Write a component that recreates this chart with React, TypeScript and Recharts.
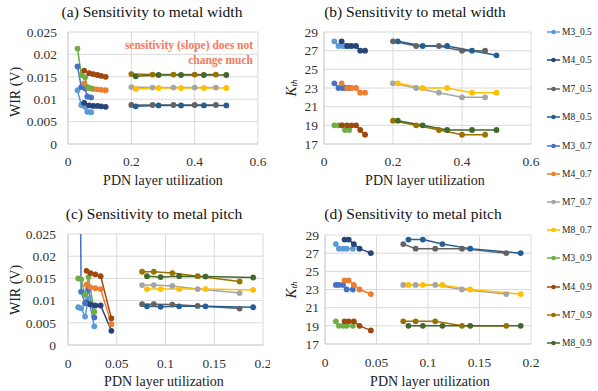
import React from 'react';
import { LineChart, Line, XAxis, YAxis, CartesianGrid } from 'recharts';

// ---------- series ----------
const seriesNames = ['M3_0.5', 'M4_0.5', 'M7_0.5', 'M8_0.5', 'M3_0.7', 'M4_0.7', 'M7_0.7', 'M8_0.7', 'M3_0.9', 'M4_0.9', 'M7_0.9', 'M8_0.9'];
const seriesColors = ['#5B9BD5', '#264478', '#636363', '#255E91', '#4472C4', '#ED7D31', '#A5A5A5', '#FFC000', '#70AD47', '#9E480E', '#997300', '#43682B'];

// ---------- x positions (PDN layer utilization) ----------
const widthM3X = [0.03, 0.042, 0.054, 0.061, 0.073];
const widthM4X = [0.051, 0.067, 0.08, 0.093, 0.105, 0.119];
const widthM7X = [0.2, 0.267, 0.333, 0.4, 0.467];
const widthM8X = [0.214, 0.286, 0.357, 0.429, 0.5];

const pitchM3X = [0.0105, 0.0135, 0.0175, 0.021, 0.027];
const pitchM4X = [0.019, 0.023, 0.028, 0.0335, 0.0445];
const pitchM7X = [0.076, 0.088, 0.107, 0.133, 0.176];
const pitchM8X = [0.081, 0.095, 0.114, 0.141, 0.19];

// ---------- (a) WIR vs width ----------
const a_M3_05 = [0.012, 0.0087, 0.0083, 0.0072, 0.0071];
const a_M4_05 = [0.0092, 0.0086, 0.0085, 0.0085, 0.0084, 0.0083];
const a_M7_05 = [0.0087, 0.0087, 0.0087, 0.0087, 0.0087];
const a_M8_05 = [0.0084, 0.0086, 0.0086, 0.0086, 0.0086];
const a_M3_07 = [0.0173, 0.0127, 0.0124, 0.0106, 0.0104];
const a_M4_07 = [0.0135, 0.0125, 0.0123, 0.0122, 0.0121, 0.012];
const a_M7_07 = [0.0127, 0.0126, 0.0126, 0.0126, 0.0126];
const a_M8_07 = [0.0123, 0.0125, 0.0125, 0.0125, 0.0125];
const a_M3_09 = [0.0213, 0.0154, 0.0149, 0.0127, 0.0124];
const a_M4_09 = [0.0164, 0.0158, 0.0156, 0.0154, 0.0152, 0.015];
const a_M7_09 = [0.0156, 0.0155, 0.0155, 0.0155, 0.0155];
const a_M8_09 = [0.0151, 0.0154, 0.0154, 0.0154, 0.0154];

// ---------- (b) K_th vs width ----------
const b_M3_05 = [28, 27.5, 27.5, 27.5, 27.5];
const b_M4_05 = [28, 27.5, 27.5, 27.5, 27, 27];
const b_M7_05 = [28, 27.5, 27.5, 27, 27];
const b_M8_05 = [28, 27.5, 27.5, 27, 26.5];
const b_M3_07 = [23.5, 23, 23, 23, 23];
const b_M4_07 = [23.5, 23, 23, 23, 22.5, 22.5];
const b_M7_07 = [23.5, 23, 22.5, 22, 22];
const b_M8_07 = [23.5, 23, 23, 22.5, 22.5];
const b_M3_09 = [19, 19, 19, 18.5, 18.5];
const b_M4_09 = [19, 19, 19, 19, 18.5, 18];
const b_M7_09 = [19.5, 19, 18.5, 18, 18];
const b_M8_09 = [19.5, 19, 18.5, 18.5, 18.5];

// ---------- (c) WIR vs pitch ----------
const c_M3_05 = [0.0085, 0.0083, 0.0064, 0.0105, 0.0042];
const c_M4_05 = [0.0095, 0.0091, 0.0089, 0.0089, 0.0032];
const c_M7_05 = [0.0092, 0.0092, 0.0091, 0.0088, 0.0082];
const c_M8_05 = [0.0087, 0.0086, 0.0087, 0.0087, 0.0085];
const c_M3_07 = [0.09, 0.012, 0.0094, 0.0125, 0.0062];
const c_M4_07 = [0.0136, 0.013, 0.0128, 0.0126, 0.0047];
const c_M7_07 = [0.0135, 0.0135, 0.0133, 0.0126, 0.0117];
const c_M8_07 = [0.0126, 0.0126, 0.0126, 0.0126, 0.0124];
const c_M3_09 = [0.015, 0.0148, 0.0113, 0.0153, 0.0075];
const c_M4_09 = [0.0167, 0.0162, 0.0159, 0.0155, 0.006];
const c_M7_09 = [0.0165, 0.0165, 0.0162, 0.0155, 0.0143];
const c_M8_09 = [0.0155, 0.0153, 0.0155, 0.0154, 0.0152];

// ---------- (d) K_th vs pitch ----------
const d_M3_05 = [28, 27.5, 27.5, 27.5, 27.5];
const d_M4_05 = [28.5, 28.5, 28, 27.5, 27];
const d_M7_05 = [28, 27.5, 27.5, 27.5, 27];
const d_M8_05 = [28.5, 28.5, 28, 27.5, 27];
const d_M3_07 = [23.5, 23.5, 23.5, 23, 23];
const d_M4_07 = [24, 24, 23.5, 23, 22.5];
const d_M7_07 = [23.5, 23.5, 23.5, 23, 22.5];
const d_M8_07 = [23.5, 23.5, 23.5, 23, 22.5];
const d_M3_09 = [19.5, 19, 19, 19, 19];
const d_M4_09 = [19.5, 19.5, 19.5, 19, 18.5];
const d_M7_09 = [19.5, 19.5, 19.5, 19, 19];
const d_M8_09 = [19, 19, 19, 19, 19];

// ---------- ticks ----------
const wirTicks = [0, 0.005, 0.01, 0.015, 0.02, 0.025];
const kthTicks = [17, 19, 21, 23, 25, 27, 29];
const widthTicks = [0, 0.2, 0.4, 0.6];
const pitchTicks = [0, 0.05, 0.1, 0.15, 0.2];

const FONT = '"Liberation Serif", "Times New Roman", serif';

const widthXs = [widthM3X, widthM4X, widthM7X, widthM8X];
const pitchXs = [pitchM3X, pitchM4X, pitchM7X, pitchM8X];
const aYs = [a_M3_05, a_M4_05, a_M7_05, a_M8_05, a_M3_07, a_M4_07, a_M7_07, a_M8_07, a_M3_09, a_M4_09, a_M7_09, a_M8_09];
const bYs = [b_M3_05, b_M4_05, b_M7_05, b_M8_05, b_M3_07, b_M4_07, b_M7_07, b_M8_07, b_M3_09, b_M4_09, b_M7_09, b_M8_09];
const cYs = [c_M3_05, c_M4_05, c_M7_05, c_M8_05, c_M3_07, c_M4_07, c_M7_07, c_M8_07, c_M3_09, c_M4_09, c_M7_09, c_M8_09];
const dYs = [d_M3_05, d_M4_05, d_M7_05, d_M8_05, d_M3_07, d_M4_07, d_M7_07, d_M8_07, d_M3_09, d_M4_09, d_M7_09, d_M8_09];

function pts(xs: number[], ys: number[]) {
  return ys.map((y, i) => ({ x: xs[i], y }));
}

type PanelProps = {
  left: number; top: number; width: number; height: number;
  margin: { top: number; right: number; bottom: number; left: number };
  yWidth: number; yTickMargin: number; xTickMargin: number;
  xDomain: [number, number]; xTicks: number[];
  yDomain: [number, number]; yTicks: number[];
  xs: number[][]; ys: number[][];
};

function Panel(p: PanelProps) {
  const tickStyle = { fill: '#333', fontSize: 13.5, fontFamily: FONT };
  return (
    <div style={{ position: 'absolute', left: p.left, top: p.top, fontFamily: FONT }}>
      <LineChart width={p.width} height={p.height} margin={p.margin} style={{ fontFamily: FONT }}>
        <CartesianGrid stroke="#dadada" strokeWidth={1} />
        <XAxis type="number" dataKey="x" domain={p.xDomain} ticks={p.xTicks} allowDataOverflow interval={0}
          axisLine={{ stroke: '#d0d0d0' }} tickLine={false} tick={tickStyle} tickMargin={p.xTickMargin} height={40} />
        <YAxis type="number" domain={p.yDomain} ticks={p.yTicks} allowDataOverflow interval={0} width={p.yWidth}
          axisLine={{ stroke: '#d0d0d0' }} tickLine={false} tick={tickStyle} tickMargin={p.yTickMargin} />
        {seriesNames.map((name, i) => (
          <Line key={name} name={name} data={pts(p.xs[i % 4], p.ys[i])} dataKey="y" type="linear"
            stroke={seriesColors[i]} strokeWidth={1.5}
            dot={{ r: 2.9, fill: seriesColors[i], stroke: seriesColors[i], strokeWidth: 0 }}
            isAnimationActive={false} />
        ))}
      </LineChart>
    </div>
  );
}

const legendY = [32, 60, 89, 117, 146, 174, 202, 230, 258, 287, 315, 343];

function Overlay() {
  const title = { fontFamily: FONT, fontSize: 15.5, fill: '#111', textAnchor: 'middle' as const, dominantBaseline: 'central' as const };
  const axisT = { fontFamily: FONT, fontSize: 14, fill: '#222', textAnchor: 'middle' as const, dominantBaseline: 'central' as const };
  return (
    <svg width={598} height={391} style={{ position: 'absolute', left: 0, top: 0, pointerEvents: 'none', fontFamily: FONT }}>
      <text x={152} y={11} {...title}>(a) Sensitivity to metal width</text>
      <text x={415} y={11} {...title}>(b) Sensitivity to metal width</text>
      <text x={154} y={213} {...title}>(c) Sensitivity to metal pitch</text>
      <text x={413} y={213} {...title}>(d) Sensitivity to metal pitch</text>

      <text x={163} y={180} {...axisT}>PDN layer utilization</text>
      <text x={425} y={180} {...axisT}>PDN layer utilization</text>
      <text x={164} y={381} {...axisT}>PDN layer utilization</text>
      <text x={430} y={381} {...axisT}>PDN layer utilization</text>

      <text transform="translate(15,92) rotate(-90)" {...axisT}>WIR (V)</text>
      <text transform="translate(15,290) rotate(-90)" {...axisT}>WIR (V)</text>
      <text transform="translate(291,88) rotate(-90)" {...axisT}>
        <tspan fontStyle="italic" fontSize={15}>K</tspan>
        <tspan fontStyle="italic" fontSize={9} dy={3}>th</tspan>
      </text>
      <text transform="translate(291,290) rotate(-90)" {...axisT}>
        <tspan fontStyle="italic" fontSize={15}>K</tspan>
        <tspan fontStyle="italic" fontSize={9} dy={3}>th</tspan>
      </text>

      <text x={253} y={45} fontFamily={FONT} fontSize={11.5} fontWeight="bold" fill="#F4795B" textAnchor="end" dominantBaseline="central">sensitivity (slope) does not</text>
      <text x={253} y={60} fontFamily={FONT} fontSize={11.5} fontWeight="bold" fill="#F4795B" textAnchor="end" dominantBaseline="central">change much</text>

      {seriesNames.map((name, i) => (
        <g key={name}>
          <line x1={547} x2={560} y1={legendY[i]} y2={legendY[i]} stroke={seriesColors[i]} strokeWidth={1.5} />
          <circle cx={553.5} cy={legendY[i]} r={2.3} fill={seriesColors[i]} />
          <text x={562} y={legendY[i]} fontFamily={FONT} fontSize={9.5} fill="#222" dominantBaseline="central">{name}</text>
        </g>
      ))}
    </svg>
  );
}

export default function App() {
  return (
    <div style={{ position: 'absolute', left: 0, top: 0, width: 598, height: 391, background: '#fff', overflow: 'hidden', fontFamily: FONT }}>
      <style>{'.recharts-text, .recharts-cartesian-axis-tick-value { font-family: "Liberation Serif", "Times New Roman", serif !important; }'}</style>
      <Panel left={0} top={0} width={270} height={195}
        margin={{ top: 32, right: 12, bottom: 11, left: 0 }} yWidth={68} yTickMargin={5} xTickMargin={6.5}
        xDomain={[0, 0.6]} xTicks={widthTicks} yDomain={[0, 0.025]} yTicks={wirTicks} xs={widthXs} ys={aYs} />
      <Panel left={270} top={0} width={275} height={195}
        margin={{ top: 32, right: 14, bottom: 11, left: 0 }} yWidth={54} yTickMargin={0} xTickMargin={6.5}
        xDomain={[0, 0.6]} xTicks={widthTicks} yDomain={[17, 29]} yTicks={kthTicks} xs={widthXs} ys={bYs} />
      <Panel left={0} top={195} width={270} height={196}
        margin={{ top: 39, right: 7, bottom: 6, left: 0 }} yWidth={68} yTickMargin={6} xTickMargin={7}
        xDomain={[0, 0.2]} xTicks={pitchTicks} yDomain={[0, 0.025]} yTicks={wirTicks} xs={pitchXs} ys={cYs} />
      <Panel left={270} top={195} width={275} height={196}
        margin={{ top: 40, right: 14, bottom: 7, left: 0 }} yWidth={55} yTickMargin={0} xTickMargin={7}
        xDomain={[0, 0.2]} xTicks={pitchTicks} yDomain={[17, 29]} yTicks={kthTicks} xs={pitchXs} ys={dYs} />
      <Overlay />
    </div>
  );
}
